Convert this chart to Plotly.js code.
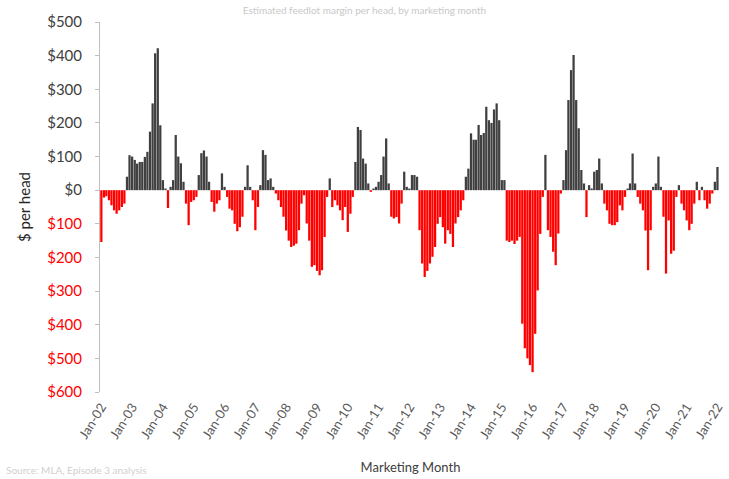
<!DOCTYPE html>
<html>
<head>
<meta charset="utf-8">
<script src="https://cdn.plot.ly/plotly-3.0.1.min.js"></script>
<style>
html,body{margin:0;padding:0;background:#fff;overflow:hidden;}
#chart{width:729px;height:479px;}
</style>
</head>
<body>
<div id="chart"></div>
<script>
// Monthly margin, $ per head, starting Jan-2002
var startYear = 2002;
var v2002 = [-154, -22, -18, -30, -45, -60, -70, -60, -50, -40, 40, 104];
var v2003 = [100, 90, 79, 84, 84, 99, 114, 174, 258, 407, 422, 193];
var v2004 = [30, 5, -53, 10, 30, 164, 100, 80, 25, -40, -104, -35];
var v2005 = [-30, -20, 45, 110, 118, 100, 25, -35, -64, -40, -30, 50];
var v2006 = [10, -20, -55, -60, -100, -122, -110, -79, 10, 74, 10, -30];
var v2007 = [-119, -50, 15, 119, 105, 30, 35, 10, -10, -30, -50, -79];
var v2008 = [-120, -150, -169, -165, -159, -119, -40, -15, -99, -150, -228, -223];
var v2009 = [-240, -253, -238, -139, -20, 35, -50, -30, -45, -60, -89, -50];
var v2010 = [-124, -70, -20, 84, 188, 179, 94, 79, 20, -5, 5, 10];
var v2011 = [25, 45, 100, 154, 20, -79, -84, -80, -99, -40, 55, 10];
var v2012 = [5, 45, 45, 40, -119, -218, -258, -240, -218, -198, -169, -100];
var v2013 = [-80, -110, -159, -119, -130, -169, -99, -80, -60, -30, 40, 64];
var v2014 = [169, 150, 150, 194, 164, 170, 248, 208, 200, 240, 258, 208];
var v2015 = [30, 30, -150, -154, -150, -160, -150, -139, -397, -470, -500, -520];
var v2016 = [-541, -427, -298, -130, -20, 105, -119, -139, -183, -223, -129, -10];
var v2017 = [30, 119, 268, 357, 402, 268, 184, 60, 20, -80, 15, 5];
var v2018 = [55, 60, 94, 20, -40, -60, -100, -104, -104, -95, -45, -60];
var v2019 = [-20, 5, 20, 109, 20, -20, -40, -60, -120, -238, -119, 10];
var v2020 = [20, 100, 10, -79, -248, -90, -189, -180, -20, 15, -40, -60];
var v2021 = [-90, -119, -100, -40, 25, -30, 10, -30, -55, -40, -10, 25];
var v2022 = [69];

var yearly = [v2002, v2003, v2004, v2005, v2006, v2007, v2008, v2009, v2010, v2011,
              v2012, v2013, v2014, v2015, v2016, v2017, v2018, v2019, v2020, v2021, v2022];

var yTickVals = [500, 400, 300, 200, 100, 0, -100, -200, -300, -400, -500, -600];
var yTickText = ['$500', '$400', '$300', '$200', '$100', '$0', '$100', '$200', '$300', '$400', '$500', '$600'];
var xTickLabels = ['Jan-02','Jan-03','Jan-04','Jan-05','Jan-06','Jan-07','Jan-08','Jan-09','Jan-10','Jan-11',
                   'Jan-12','Jan-13','Jan-14','Jan-15','Jan-16','Jan-17','Jan-18','Jan-19','Jan-20','Jan-21','Jan-22'];

function pad(n){ return (n < 10 ? '0' : '') + n; }

var months = [], values = [];
yearly.forEach(function(arr, yi){
  arr.forEach(function(v, mi){
    months.push((startYear + yi) + '-' + pad(mi + 1) + '-01');
    values.push(v);
  });
});
var xTickVals = xTickLabels.map(function(_, k){ return (startYear + k) + '-01-01'; });

var colors = values.map(function(v){ return v >= 0 ? '#404040' : '#FF0000'; });

var yTickStyled = yTickText.map(function(t, k){
  return yTickVals[k] < 0 ? '<span style="color:#FF0000">' + t + '</span>' : t;
});

var trace = {
  type: 'bar',
  x: months,
  y: values,
  marker: {color: colors, line: {width: 0}},
  hoverinfo: 'x+y'
};

var layout = {
  width: 729, height: 479,
  margin: {l: 100, r: 8, t: 22, b: 87},
  paper_bgcolor: '#ffffff',
  plot_bgcolor: '#ffffff',
  bargap: 0.04,
  showlegend: false,
  font: {family: 'Lato, "Open Sans", sans-serif', color: '#404040'},
  title: {
    text: 'Estimated feedlot margin per head, by marketing month',
    x: 0.5, xanchor: 'center', y: 0.985, yanchor: 'top',
    font: {size: 10, color: '#c8c8c8'}
  },
  xaxis: {
    type: 'date',
    range: ['2001-12-16', '2022-02-12'],
    tickmode: 'array',
    tickvals: xTickVals,
    ticktext: xTickLabels,
    tickangle: -58,
    tickfont: {size: 13, color: '#595959'},
    ticklabeloverflow: 'allow',
    ticklabelstandoff: 4,
    showgrid: false,
    zeroline: false,
    showline: false,
    ticks: '',
    title: {text: 'Marketing Month', font: {size: 13, color: '#404040'}, standoff: 22}
  },
  yaxis: {
    range: [-600, 500],
    tickmode: 'array',
    tickvals: yTickVals,
    ticktext: yTickStyled,
    tickfont: {size: 15, color: '#404040'},
    ticklabelstandoff: 10,
    showgrid: false,
    zeroline: false,
    showline: true,
    linecolor: '#bfbfbf',
    linewidth: 1,
    ticks: 'outside',
    ticklen: 4,
    tickcolor: '#bfbfbf',
    title: {text: '$ per head', font: {size: 15, color: '#262626'}, standoff: 12}
  },
  annotations: [{
    text: 'Source: MLA, Episode 3 analysis',
    xref: 'paper', yref: 'paper', x: -0.155, y: -0.19,
    xanchor: 'left', yanchor: 'top', showarrow: false,
    font: {size: 10, color: '#cfcfcf'}
  }]
};

Plotly.newPlot('chart', [trace], layout, {displayModeBar: false, staticPlot: true});
</script>
</body>
</html>
